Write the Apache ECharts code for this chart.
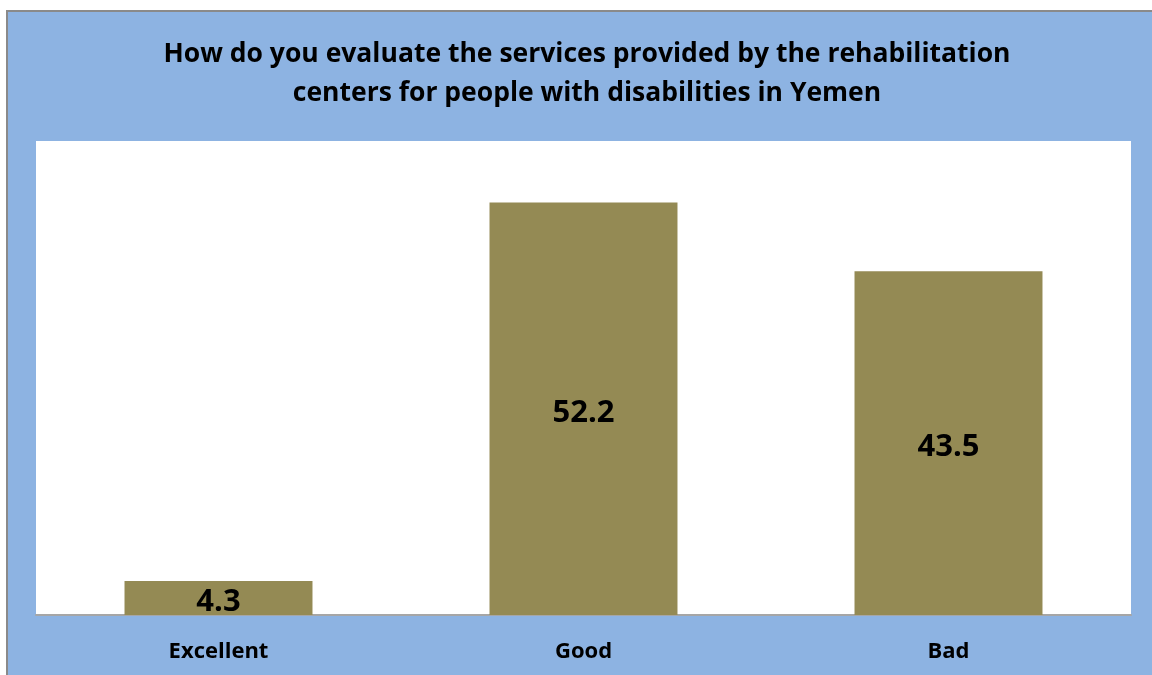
<!DOCTYPE html>
<html><head><meta charset="utf-8">
<script src="https://cdn.jsdelivr.net/npm/echarts@6/dist/echarts.min.js"></script>
<style>html,body{margin:0;padding:0;background:#fff}#c{width:1152px;height:675px}</style>
</head><body><div id="c"></div>
<script>
const titleText = "How do you evaluate the services provided by the rehabilitation\ncenters for people with disabilities in Yemen";
const categories = ["Excellent", "Good", "Bad"];
const values = [4.3, 52.2, 43.5];
const FONT = "Open Sans";
const chart = echarts.init(document.getElementById('c'));
chart.setOption({
  animation: false,
  backgroundColor: '#ffffff',
  graphic: [{
    type: 'rect', z: -10, silent: true,
    shape: { x: 7, y: 11, width: 1160, height: 680 },
    style: { fill: '#8DB3E2', stroke: '#8A8A8A', lineWidth: 2 }
  }],
  title: {
    text: titleText, left: 582, textAlign: 'center', top: 30,
    textStyle: { fontFamily: FONT, fontWeight: 'bold', fontSize: 26.5, color: '#000', lineHeight: 39 }
  },
  grid: { left: 36, right: 21, top: 141, bottom: 60, show: true, backgroundColor: '#ffffff', borderWidth: 0 },
  xAxis: {
    type: 'category', data: categories,
    axisLine: { lineStyle: { color: '#A6A6A6', width: 2 } },
    axisTick: { show: false },
    axisLabel: { fontFamily: FONT, fontWeight: 'bold', fontSize: 22, color: '#000', margin: 26 }
  },
  yAxis: { type: 'value', min: 0, max: 60, show: false, splitLine: { show: false } },
  series: [{
    type: 'bar', data: values, barWidth: '51.5%',
    itemStyle: { color: '#948A54' },
    label: { show: true, position: 'inside', offset: [0, 4], fontFamily: FONT, fontWeight: 'bold', fontSize: 31, color: '#000', formatter: p => p.value.toFixed(1) }
  }]
});
</script></body></html>
